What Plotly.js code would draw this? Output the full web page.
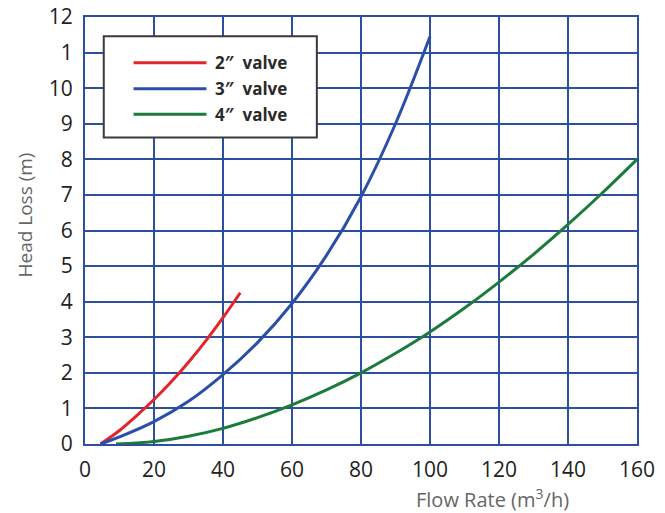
<!DOCTYPE html>
<html>
<head>
<meta charset="utf-8">
<script src="https://cdn.plot.ly/plotly-3.0.1.min.js"></script>
<style>html,body{margin:0;padding:0;background:#fff;}#chart{width:665px;height:513px;}</style>
</head>
<body>
<div id="chart"></div>
<script>
// Data
const seriesNames = ["2\u2033  valve", "3\u2033  valve", "4\u2033  valve"];
const seriesColors = ["#E3242B", "#2B4FA8", "#1B7B3A"];

const flow2 = [4.5, 10, 15, 20, 25, 30, 35, 40, 45];
const loss2 = [0, 0.38, 0.8, 1.25, 1.75, 2.3, 2.9, 3.55, 4.25];

const flow3 = [4.5, 10, 20, 30, 40, 50, 60, 70, 80, 90, 100];
const loss3 = [0, 0.2, 0.63, 1.2, 1.95, 2.85, 3.95, 5.3, 6.95, 9.0, 11.45];

const flow4 = [9, 15, 20, 30, 40, 50, 60, 70, 80, 90, 100, 110, 120, 130, 140, 150, 160];
const loss4 = [0, 0.03, 0.07, 0.22, 0.44, 0.74, 1.1, 1.52, 2.0, 2.55, 3.15, 3.82, 4.55, 5.33, 6.17, 7.06, 8.0];

const xTickVals = [0, 20, 40, 60, 80, 100, 120, 140, 160];
const yTickVals = [0, 1, 2, 3, 4, 5, 6, 7, 8, 9, 10, 11, 12];
const yTickText = ["0", "1", "2", "3", "4", "5", "6", "7", "8", "9", "10", "1", "12"];

const xs = [flow2, flow3, flow4];
const ys = [loss2, loss3, loss4];

const traces = xs.map((x, i) => ({
  x: x, y: ys[i], type: "scatter", mode: "lines", name: seriesNames[i],
  line: {color: seriesColors[i], width: 3, shape: "spline", smoothing: 1},
  showlegend: false, hoverinfo: "skip"
}));

const gridColor = "#2E4F9F";
const font = "'Open Sans', 'Noto Sans', sans-serif";

// Custom legend (longer sample lines than Plotly's native legend)
const shapes = [{
  type: "rect", xref: "paper", yref: "paper",
  x0: 0.034, x1: 0.42, y0: 0.718, y1: 0.955,
  fillcolor: "#ffffff", line: {color: "#3a3a3a", width: 2}, layer: "above"
}];
const annotations = [];
const legendRows = [0.893, 0.832, 0.772];
seriesNames.forEach((n, i) => {
  shapes.push({type: "line", xref: "paper", yref: "paper",
    x0: 0.088, x1: 0.22, y0: legendRows[i], y1: legendRows[i],
    line: {color: seriesColors[i], width: 3}, layer: "above"});
  annotations.push({xref: "paper", yref: "paper", x: 0.232, y: legendRows[i],
    xanchor: "left", yanchor: "middle", showarrow: false, text: n,
    font: {family: font, size: 17, color: "#2a2a2a", weight: "bold"}});
});
annotations.push({xref: "paper", yref: "paper", x: 0.739, y: -0.128,
  xanchor: "center", yanchor: "middle", showarrow: false,
  text: "Flow Rate (m<sup>3</sup>/h)", font: {family: font, size: 20, color: "#666666"}});
annotations.push({xref: "paper", yref: "paper", x: -0.109, y: 0.537,
  xanchor: "center", yanchor: "middle", showarrow: false, textangle: -90,
  text: "Head Loss (m)", font: {family: font, size: 19, color: "#666666"}});

const layout = {
  width: 665, height: 513,
  margin: {l: 85, r: 28, t: 17, b: 69},
  paper_bgcolor: "#ffffff", plot_bgcolor: "#ffffff",
  showlegend: false,
  xaxis: {
    range: [0, 160], tickvals: xTickVals, ticktext: xTickVals.map(String),
    showgrid: true, gridcolor: gridColor, gridwidth: 2,
    showline: true, linecolor: gridColor, linewidth: 2, mirror: true,
    zeroline: false, ticks: "", ticklabelstandoff: 6,
    tickfont: {family: font, size: 21, color: "#222222"}, fixedrange: true
  },
  yaxis: {
    range: [0, 12], tickvals: yTickVals, ticktext: yTickText,
    showgrid: true, gridcolor: gridColor, gridwidth: 2,
    showline: true, linecolor: gridColor, linewidth: 2, mirror: true,
    zeroline: false, ticks: "", ticklabelstandoff: 6,
    tickfont: {family: font, size: 21, color: "#222222"}, fixedrange: true
  },
  shapes: shapes,
  annotations: annotations
};

Plotly.newPlot("chart", traces, layout, {displayModeBar: false, staticPlot: true});
</script>
</body>
</html>
